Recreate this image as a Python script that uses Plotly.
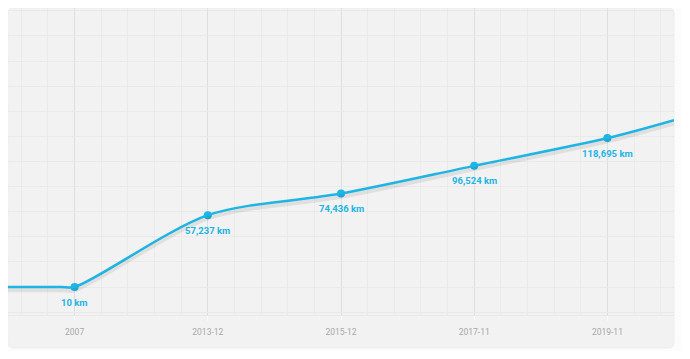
import plotly.graph_objects as go

# ---- data ----
categories = ["2007", "2013-12", "2015-12", "2017-11", "2019-11"]
lengths_km = [10, 57237, 74436, 96524, 118695]
# the line runs flat from the left card edge into 2007 and continues past 2019-11
lead_in_x = [-0.5, -0.1]
lead_in_km = [10, 10]
lead_out_x = [4.5]
lead_out_km = [133000]

x_pos = list(range(len(categories)))
x_line = lead_in_x + x_pos + lead_out_x
y_line = lead_in_km + lengths_km + lead_out_km
labels = [f"{v:,} km" for v in lengths_km]

CYAN = "#1cb5e4"
Y_RANGE = [-22300, 222300]
SHADOW_SHIFT = 2600
SMOOTH = 0.85

fig = go.Figure()

# soft shadow of the line (same data on an overlaid, shifted axis)
fig.add_trace(go.Scatter(
    x=x_line, y=y_line, mode="lines", yaxis="y2",
    line=dict(color="rgba(0,0,0,0.08)", width=4, shape="spline", smoothing=SMOOTH),
    hoverinfo="skip", showlegend=False,
))
fig.add_trace(go.Scatter(
    x=x_line, y=y_line, mode="lines",
    line=dict(color=CYAN, width=2.5, shape="spline", smoothing=SMOOTH),
    hoverinfo="skip", showlegend=False,
))
fig.add_trace(go.Scatter(
    x=x_pos, y=lengths_km, mode="markers",
    marker=dict(color=CYAN, size=8),
    showlegend=False, cliponaxis=False,
))

for xv, yv, lab in zip(x_pos, lengths_km, labels):
    fig.add_annotation(
        x=xv, y=yv, text=lab, showarrow=False, yshift=-15,
        font=dict(family="Roboto", size=9.5, color=CYAN, weight="bold"),
    )

# card background with rounded corners (paper coords of plot area)
W, H = 666.0, 307.0
rx, ry = 6 / W, 6 / H
bot = -33 / H
card = (f"M {rx},1 L {1-rx},1 Q 1,1 1,{1-ry} L 1,{bot+ry} Q 1,{bot} {1-rx},{bot} "
        f"L {rx},{bot} Q 0,{bot} 0,{bot+ry} L 0,{1-ry} Q 0,1 {rx},1 Z")
fig.add_shape(type="path", path=card, xref="paper", yref="paper",
              fillcolor="#f2f2f2", line=dict(color="#ededed", width=1), layer="below")

fig.update_layout(
    width=682, height=343,
    margin=dict(l=0, r=16, t=0, b=36),
    paper_bgcolor="#fcfcfc",
    plot_bgcolor="rgba(0,0,0,0)",
    font=dict(family="Roboto", color="#aaaaaa", size=9),
    xaxis=dict(
        range=[-0.5, len(categories) - 0.5],
        tickvals=x_pos, ticktext=categories,
        showgrid=True, gridcolor="#dedede", gridwidth=1,
        minor=dict(dtick=0.2, tick0=0, showgrid=True, gridcolor="#eaeaea", gridwidth=1),
        zeroline=False, showline=True, linecolor="#e8e8e8", linewidth=1,
        ticks="outside", ticklen=5, tickcolor="#fafafa",
        tickfont=dict(family="Roboto", size=8.5, color="#a8a8a8"),
        ticklabelstandoff=4,
    ),
    yaxis=dict(
        range=Y_RANGE, dtick=20000, tick0=0,
        showgrid=True, gridcolor="#e9e9e9", gridwidth=1,
        showticklabels=False, zeroline=False, ticks="",
    ),
    yaxis2=dict(
        range=[Y_RANGE[0] + SHADOW_SHIFT, Y_RANGE[1] + SHADOW_SHIFT],
        overlaying="y", showgrid=False, showticklabels=False, zeroline=False,
    ),
)

fig.write_html("out.html")
